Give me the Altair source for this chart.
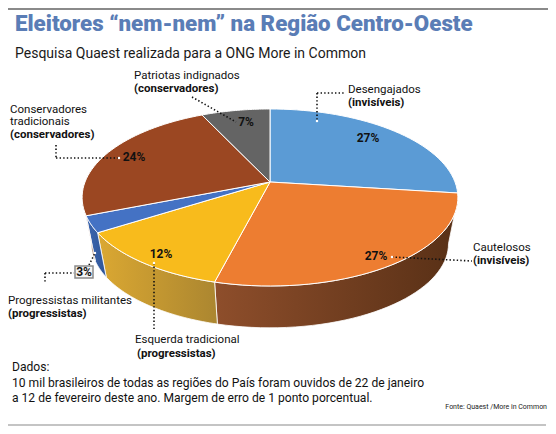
import altair as alt
import pandas as pd

# ---------------- data ----------------
categories = ["Desengajados", "Cautelosos", "Esquerda tradicional",
              "Progressistas militantes", "Conservadores tradicionais",
              "Patriotas indignados"]
values = [27, 27, 12, 3, 24, 7]
top_colors = ["#5b9bd5", "#ed7d31", "#f8bb1c", "#4472c4", "#9b4722", "#646464"]

# wall (side) gradients for the slices whose side is visible
wall_cats = ["Cautelosos", "Esquerda tradicional", "Progressistas militantes",
             "Conservadores tradicionais"]
wall_left = ["#8e4e2b", "#dba832", "#3c66b0", "#7e3b1b"]
wall_right = ["#583016", "#ab8630", "#2f5597", "#6e3317"]

# percentage label anchors (layout)
pct_x = [368, 376, 161, 84, 134, 246]
pct_y = [138, 256, 254, 272, 157, 122]

# category label text (layout)
label_lines = ["Patriotas indignados", "Desengajados", "Conservadores",
               "tradicionais", "Cautelosos", "Progressistas militantes",
               "Esquerda tradicional"]
label_x = [134, 348, 10, 10, 473, 8, 135]
label_y = [79, 93, 112.5, 125, 251, 304, 343]
bold_lines = ["(conservadores)", "(invisíveis)", "(conservadores)",
              "(invisíveis)", "(progressistas)", "(progressistas)"]
bold_x = [134, 348, 10, 473, 8, 137]
bold_y = [92, 106, 138, 264, 317, 357]

# leader lines (layout)
lead_x = [192, 317, 317, 56, 56, 392, 45, 45, 89, 154]
lead_y = [97, 93, 93, 145, 158, 257, 273, 273, 265, 263]
lead_x2 = [236, 344, 317, 56, 119, 472, 74, 45, 95, 154]
lead_y2 = [122, 93, 121, 158, 158, 261, 273, 283, 253, 329]
dot_x = [317, 119, 392, 95, 154]
dot_y = [121, 158, 257, 253, 263]

title = "Eleitores \u201cnem-nem\u201d na Região Centro-Oeste"
subtitle = "Pesquisa Quaest realizada para a ONG More in Common"
notes = ["Dados:",
         "10 mil brasileiros de todas as regiões do País foram ouvidos de 22 de janeiro",
         "a 12 de fevereiro deste ano. Margem de erro de 1 ponto porcentual."]
notes_y = [371, 387, 402]
source = "Fonte: Quaest /More in Common"

# ---------------- geometry of the 3D pie ----------------
CX, CY = 270, 182      # apex of the pie
RX, RY = 185, 85.8     # radii of the top face
K = 0.175              # perspective factor
G, DC = 0.95, 47       # bottom face scale and drop
FONT = "Roboto"

W, H = 540, 418
xs = alt.Scale(domain=[8, 8 + W], range=[0, W], nice=False, zero=False)
ys = alt.Scale(domain=[8, 8 + H], range=[0, H], nice=False, zero=False)


def X(f):
    return alt.X(f, type="quantitative", scale=xs, axis=None)


def Y(f):
    return alt.Y(f, type="quantitative", scale=ys, axis=None)


slices = pd.DataFrame({"cat": categories, "value": values,
                       "idx": list(range(len(values)))})


def cumulative(chart):
    return chart.transform_window(
        cum="sum(value)", sort=[alt.SortField("idx")], frame=[None, 0]
    ).transform_calculate(start="datum.cum - datum.value")


def project(chart):
    return chart.transform_calculate(
        ang="2 * PI * datum.frac / 100"
    ).transform_calculate(
        f=f"1 / (1 + {K} * cos(datum.ang))"
    ).transform_calculate(
        tx=f"{CX} + {RX} * sin(datum.ang) * datum.f"
    ).transform_calculate(
        ty=f"{CY} - {RY} * cos(datum.ang) * datum.f"
    )


# ---- side walls ----
TL = "(100 * acos(-%s) / (2 * PI))" % K
walls = []
for cat, c1, c2 in zip(wall_cats, wall_left, wall_right):
    w = cumulative(alt.Chart(slices)).transform_filter(
        alt.datum.cat == cat
    ).transform_calculate(
        a0=f"max(datum.start, {TL})"
    ).transform_calculate(
        a1=f"min(datum.cum, 100 - {TL})"
    ).transform_filter("datum.a1 > datum.a0").transform_calculate(
        steps="sequence(0, 82)"
    ).transform_flatten(["steps"]).transform_calculate(
        frac="datum.steps <= 40 ? datum.a0 + (datum.a1 - datum.a0) * datum.steps / 40"
             " : datum.a1 - (datum.a1 - datum.a0) * (datum.steps - 41) / 40"
    )
    w = project(w).transform_calculate(
        px=f"datum.steps <= 40 ? datum.tx : {CX} + {G} * (datum.tx - {CX})"
    ).transform_calculate(
        py=f"datum.steps <= 40 ? datum.ty : {CY} + {DC} + {G} * (datum.ty - {CY})"
    ).mark_line(
        interpolate="linear-closed", stroke="white", strokeWidth=0.8,
        fill=alt.Gradient(gradient="linear",
                          stops=[alt.GradientStop(color=c1, offset=0),
                                 alt.GradientStop(color=c2, offset=1)],
                          x1=0, x2=1, y1=0, y2=0)
    ).encode(
        x=X("px"), y=Y("py"), order=alt.Order("steps:Q"), detail="cat:N"
    )
    walls.append(w)

# ---- top faces ----
tops = cumulative(alt.Chart(slices)).transform_calculate(
    steps="sequence(0, 42)"
).transform_flatten(["steps"]).transform_calculate(
    frac="datum.steps <= 40 ? datum.start + datum.value * datum.steps / 40 : 0"
)
tops = project(tops).transform_calculate(
    px=f"datum.steps <= 40 ? datum.tx : {CX}"
).transform_calculate(
    py=f"datum.steps <= 40 ? datum.ty : {CY}"
).mark_line(
    interpolate="linear-closed", stroke="white", strokeWidth=1
).encode(
    x=X("px"), y=Y("py"), order=alt.Order("steps:Q"), detail="cat:N",
    fill=alt.Fill("cat:N", scale=alt.Scale(domain=categories, range=top_colors),
                  legend=None)
)

# ---- leader lines ----
leads = alt.Chart(pd.DataFrame({"x": lead_x, "y": lead_y, "x2": lead_x2,
                                "y2": lead_y2})).mark_rule(
    color="#111", strokeWidth=1.6, strokeDash=[1.4, 2.2]
).encode(x=X("x"), y=Y("y"), x2="x2:Q", y2="y2:Q")

dots = alt.Chart(pd.DataFrame({"x": dot_x, "y": dot_y})).mark_point(
    filled=True, color="white", size=6, opacity=1
).encode(x=X("x"), y=Y("y"))

# ---- 3% box ----
box = alt.Chart(pd.DataFrame({"x": [75], "x2": [93], "y": [266], "y2": [278]})).mark_rect(
    fill="#f4f4f4", stroke="#8a8a8a", strokeWidth=1.5
).encode(x=X("x"), x2="x2:Q", y=Y("y"), y2="y2:Q")

# ---- percentage labels ----
pct_df = pd.DataFrame({"cat": categories, "value": values, "x": pct_x, "y": pct_y})
pcts = alt.Chart(pct_df).transform_calculate(
    label="datum.value + '%'"
).mark_text(font=FONT, fontSize=12, fontWeight="bold", color="#111",
            align="center", baseline="middle").encode(
    x=X("x"), y=Y("y"), text="label:N")

# ---- category labels ----
labels = alt.Chart(pd.DataFrame({"t": label_lines, "x": label_x, "y": label_y})).mark_text(
    font=FONT, fontSize=11.5, color="#111", align="left", baseline="alphabetic"
).encode(x=X("x"), y=Y("y"), text="t:N")

blabels = alt.Chart(pd.DataFrame({"t": bold_lines, "x": bold_x, "y": bold_y})).mark_text(
    font=FONT, fontSize=11.5, fontWeight="bold", color="#111", align="left",
    baseline="alphabetic"
).encode(x=X("x"), y=Y("y"), text="t:N")

# ---- titles and notes ----
title_t = alt.Chart(pd.DataFrame({"t": [title], "x": [15], "y": [31]})).mark_text(
    font=FONT, fontSize=22.3, fontWeight=900, color="#5a7db6", align="left",
    baseline="alphabetic"
).encode(x=X("x"), y=Y("y"), text="t:N")

sub_t = alt.Chart(pd.DataFrame({"t": [subtitle], "x": [15], "y": [58]})).mark_text(
    font=FONT, fontSize=14, color="#1a1a1a", align="left", baseline="alphabetic"
).encode(x=X("x"), y=Y("y"), text="t:N")

notes_t = alt.Chart(pd.DataFrame({"t": notes, "x": [12] * len(notes), "y": notes_y})).mark_text(
    font=FONT, fontSize=12.1, color="#111", align="left", baseline="alphabetic"
).encode(x=X("x"), y=Y("y"), text="t:N")

src_t = alt.Chart(pd.DataFrame({"t": [source], "x": [547], "y": [409]})).mark_text(
    font=FONT, fontSize=7, color="#222", align="right", baseline="alphabetic"
).encode(x=X("x"), y=Y("y"), text="t:N")

rules = alt.Chart(pd.DataFrame({"x": [8, 8], "x2": [548, 546], "y": [9, 425],
                                "c": ["#8a8a8a", "#c4c4c4"]})).mark_rule(
    strokeWidth=2
).encode(x=X("x"), x2="x2:Q", y=Y("y"), color=alt.Color("c:N", scale=None))

chart = alt.layer(
    rules, *walls, tops, leads, dots, box, pcts, labels, blabels,
    title_t, sub_t, notes_t, src_t
).properties(
    width=W, height=H, padding=0,
    autosize=alt.AutoSizeParams(type="none")
).configure_view(stroke=None)

chart.save("out.html", embed_options={"renderer": "svg", "actions": False})
